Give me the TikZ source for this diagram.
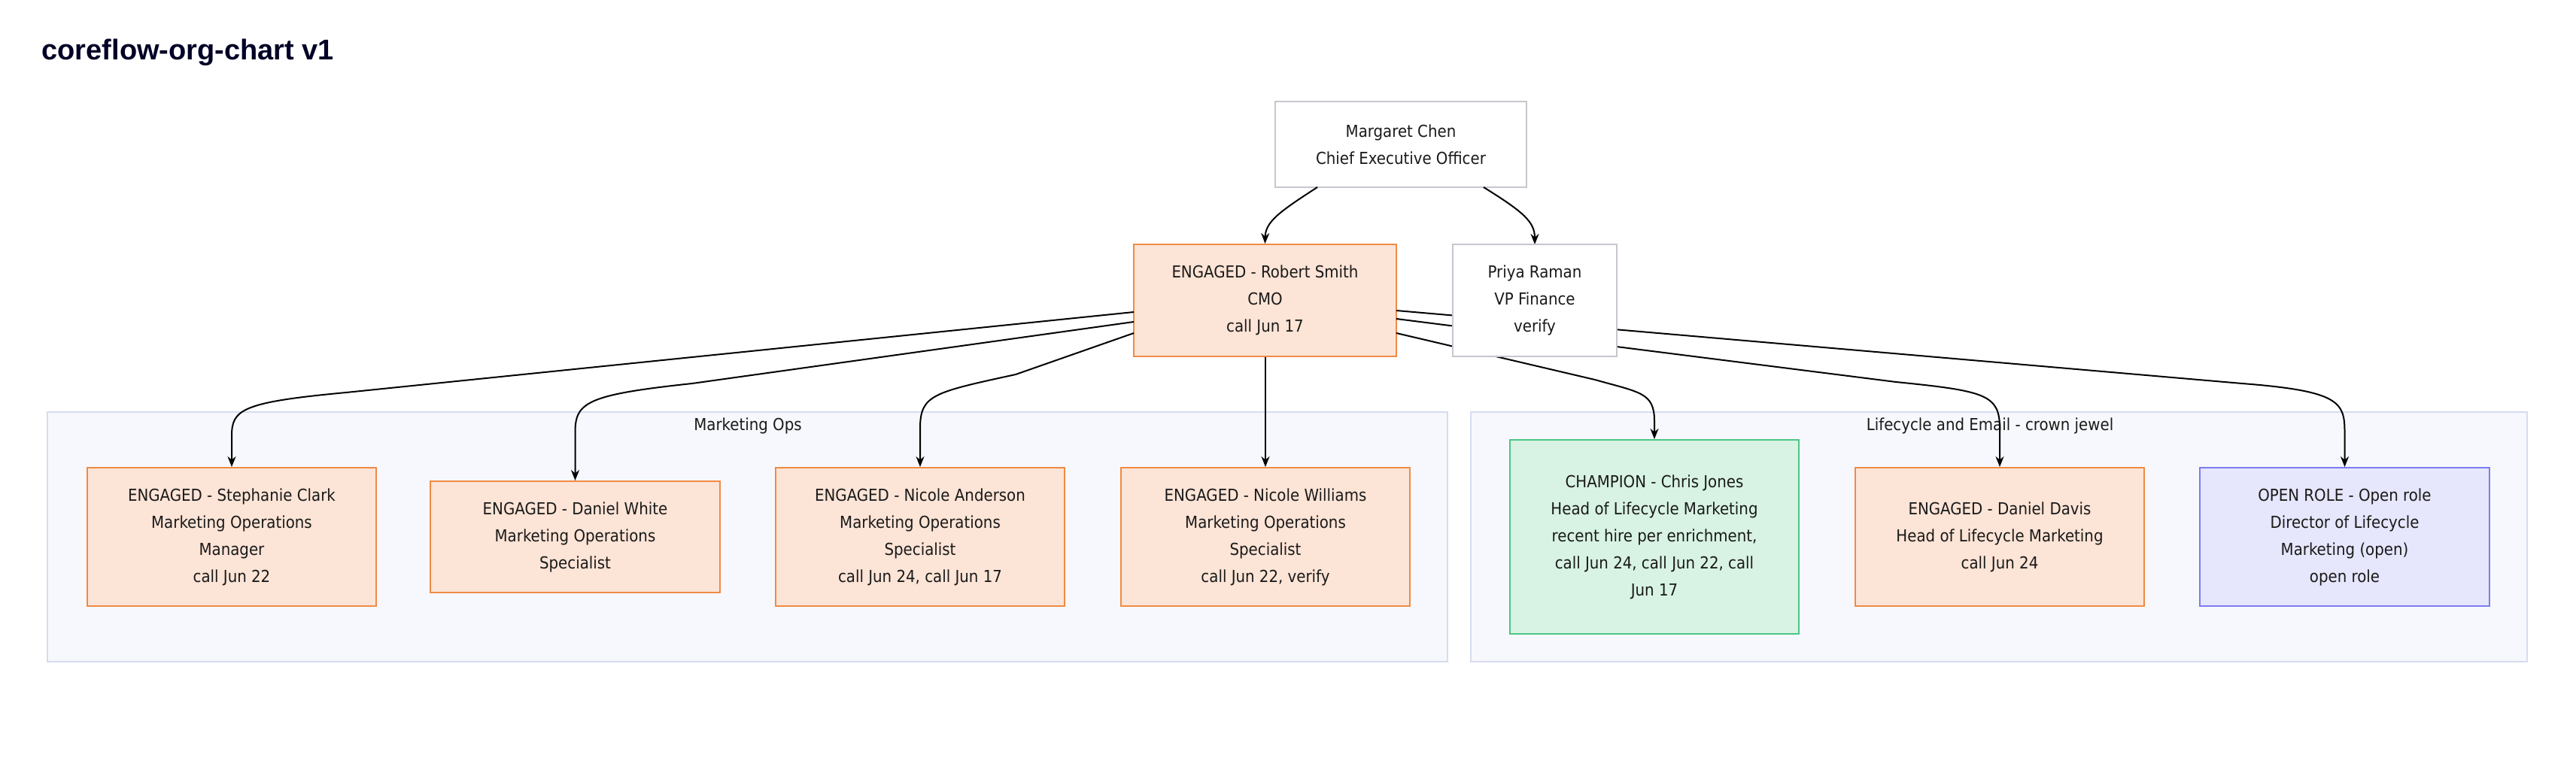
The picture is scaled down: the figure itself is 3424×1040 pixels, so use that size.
\documentclass[tikz,border=0pt]{standalone}
\usepackage{fontspec}
\setmainfont{DejaVu Sans Condensed}
\newfontfamily\titlefont{Liberation Sans}
\usetikzlibrary{arrows.meta}
\definecolor{engF}{HTML}{FCE4D6}\definecolor{engD}{HTML}{F08A45}
\definecolor{chF}{HTML}{D8F3E3}\definecolor{chD}{HTML}{4CC585}
\definecolor{opF}{HTML}{E6E6FC}\definecolor{opD}{HTML}{7C7CF2}
\definecolor{grF}{HTML}{F7F8FD}\definecolor{grD}{HTML}{D6DCEF}
\definecolor{bxD}{HTML}{C6C6CE}\definecolor{txt}{HTML}{1A1A1A}
\tikzset{
 pbox/.style={draw=bxD,fill=white,line width=2pt,align=center,inner sep=0pt,text=txt,font=\fontsize{22}{36}\selectfont},
 eng/.style={pbox,draw=engD,fill=engF},
 champ/.style={pbox,draw=chD,fill=chF},
 openr/.style={pbox,draw=opD,fill=opF},
 grp/.style={draw=grD,fill=grF,line width=2pt},
 edge/.style={draw=black,line width=2pt,-{Stealth[length=14pt,width=11pt]}},
}
\newcommand{\bx}[6]{\node[#1,minimum width=#4-#3,minimum height=#6-#5] (#2) at ({(#3+#4)/2},{(#5+#6)/2})}
\begin{document}
\begin{tikzpicture}[x=1pt,y=-1pt]
\fill[white] (0,0) rectangle (3424,1040);
\useasboundingbox (0,0) rectangle (3424,1040);
\node[anchor=west,font=\titlefont\fontsize{38}{40}\selectfont\bfseries,text=black!85!blue] (title) at (52,70) {coreflow-org-chart v1};
% groups
\draw[grp] (63,548) rectangle (1924,880);
\node[font=\fontsize{22}{30}\selectfont,text=txt] (g1) at (994,566) {Marketing Ops};
\draw[grp] (1955,548) rectangle (3359,880);
\node[font=\fontsize{22}{30}\selectfont,text=txt] (g2) at (2645,566) {Lifecycle and Email - crown jewel};
% nodes
\bx{pbox}{ceo}{1695}{2029}{135}{249}{Margaret Chen\\Chief Executive Officer};
\bx{eng}{cmo}{1507}{1856}{325}{474}{ENGAGED - Robert Smith\\CMO\\call Jun 17};
\bx{eng}{sc}{116}{500}{622}{806}{ENGAGED - Stephanie Clark\\Marketing Operations\\Manager\\call Jun 22};
\bx{eng}{dw}{572}{957}{640}{788}{ENGAGED - Daniel White\\Marketing Operations\\Specialist};
\bx{eng}{na}{1031}{1415}{622}{806}{ENGAGED - Nicole Anderson\\Marketing Operations\\Specialist\\call Jun 24, call Jun 17};
\bx{eng}{nw}{1490}{1874}{622}{806}{ENGAGED - Nicole Williams\\Marketing Operations\\Specialist\\call Jun 22, verify};
\bx{champ}{cj}{2007}{2391}{585}{843}{CHAMPION - Chris Jones\\Head of Lifecycle Marketing\\recent hire per enrichment,\\call Jun 24, call Jun 22, call\\Jun 17};
\bx{eng}{dd}{2466}{2850}{622}{806}{ENGAGED - Daniel Davis\\Head of Lifecycle Marketing\\call Jun 24};
\bx{openr}{or}{2924}{3309}{622}{806}{OPEN ROLE - Open role\\Director of Lifecycle\\Marketing (open)\\open role};
% edges from CMO
\coordinate (s1) at (1507,415);\coordinate (s2) at (1507,428);\coordinate (s3) at (1507,443);
\coordinate (r1) at (1856,413);\coordinate (r2) at (1856,424);\coordinate (r3) at (1856,443);
\draw[edge] (s1) -- (460,522) .. controls (320,535) and (sc.north|-0,545) .. (sc.north|-0,580) -- (sc.north);
\draw[edge] (s2) -- (920,510) .. controls (780,525) and (dw.north|-0,535) .. (dw.north|-0,575) -- (dw.north);
\draw[edge] (s3) -- (1350,498) .. controls (1240,522) and (na.north|-0,525) .. (na.north|-0,570) -- (na.north);
\draw[edge] (cmo.south-|nw.north) -- (nw.north);
\draw[edge] (r3) -- (2120,505) .. controls (2180,522) and (cj.north|-0,522) .. (cj.north|-0,560) -- (cj.north);
\draw[edge] (r2) -- (2520,508) .. controls (2640,520) and (dd.north|-0,525) .. (dd.north|-0,570) -- (dd.north);
\draw[edge] (r1) -- (2980,510) .. controls (3110,520) and (or.north|-0,535) .. (or.north|-0,575) -- (or.north);
% CEO edges
\draw[edge] (1751,249) .. controls (1700,282) and (1682,295) .. (cmo.north);
\draw[edge] (1972,249) .. controls (2025,282) and (2040,295) .. (2040,325);
\bx{pbox}{pr}{1931}{2149}{325}{474}{Priya Raman\\VP Finance\\verify};
\end{tikzpicture}
\end{document}
